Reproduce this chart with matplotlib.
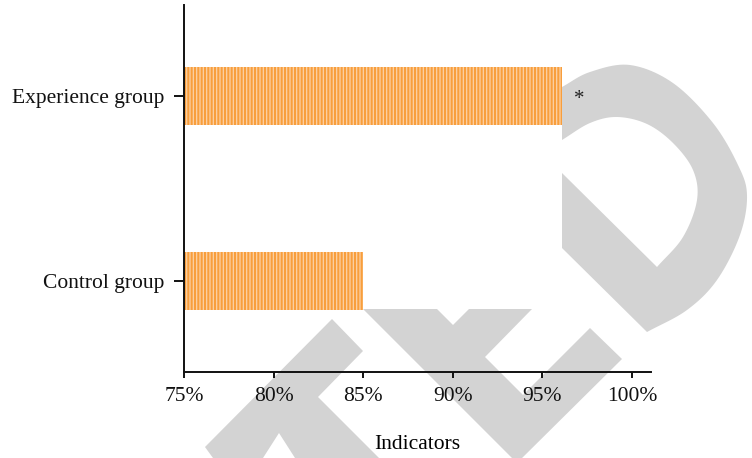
import matplotlib
matplotlib.use("Agg")
import matplotlib.pyplot as plt
from matplotlib.patches import Polygon, Rectangle
import numpy as np

# ---- data ----
categories = ["Control group", "Experience group"]
values = [85.0, 96.1]
significance = ["", "*"]
xticks = [75, 80, 85, 90, 95, 100]
xtick_labels = ["75%", "80%", "85%", "90%", "95%", "100%"]
xlabel = "Indicators"

# ---- decoration: grey retraction watermark (figure pixel coords, y down) ----
WM_COLOR = "#d3d3d3"
wm_shape_a = [(332, 319), (363, 351), (318, 397), (379, 458), (295, 458),
              (279, 433), (263, 458), (213, 458), (205, 447)]
wm_shape_b = [(363, 309), (437, 309), (453, 325), (469, 309), (532, 309),
              (485, 357), (523, 395), (590, 328), (622, 359), (517, 463)]
wm_d_outer = [(562, 87), (590, 72), (630, 65), (673, 83), (713, 123), (738, 165),
              (747, 195), (740, 235), (717, 280), (687, 310), (647, 332)]
wm_d_stem = [(562, 248), (562, 173)]
wm_d_inner = [(657, 267), (683, 237), (697, 200), (693, 170), (673, 143),
              (647, 124), (617, 117), (590, 123), (562, 140)]
wm_mask = (0, 0, 562, 309)


def smooth(pts, n=12):
    p = np.asarray(pts, float)
    p = np.vstack([2 * p[0] - p[1], p, 2 * p[-1] - p[-2]])
    out = []
    for i in range(1, len(p) - 2):
        p0, p1, p2, p3 = p[i - 1], p[i], p[i + 1], p[i + 2]
        for t in np.linspace(0, 1, n, endpoint=False):
            out.append(0.5 * ((2 * p1) + (-p0 + p2) * t
                              + (2 * p0 - 5 * p1 + 4 * p2 - p3) * t ** 2
                              + (-p0 + 3 * p1 - 3 * p2 + p3) * t ** 3))
    out.append(p[-2])
    return np.array(out)


wm_shape_d = np.vstack([smooth(wm_d_outer), np.array(wm_d_stem, float), smooth(wm_d_inner)])

W, H, DPI = 752, 458, 100
plt.rcParams["font.family"] = ["Liberation Serif", "DejaVu Serif"]
plt.rcParams["hatch.linewidth"] = 1.5

fig = plt.figure(figsize=(W / DPI, H / DPI), dpi=DPI)
fig.patch.set_facecolor("white")

bg = fig.add_axes([0, 0, 1, 1], zorder=0)
bg.set_xlim(0, W)
bg.set_ylim(H, 0)
bg.axis("off")
for shp in (wm_shape_a, wm_shape_b, wm_shape_d):
    bg.add_patch(Polygon(shp, closed=True, facecolor=WM_COLOR, edgecolor="none", zorder=1))
mx0, my0, mx1, my1 = wm_mask
bg.add_patch(Rectangle((mx0, my0), mx1 - mx0, my1 - my0, facecolor="white",
                       edgecolor="none", zorder=2))

left_px, right_px, top_px, bottom_px = 184, 651, 5, 372
ax = fig.add_axes([left_px / W, (H - bottom_px) / H,
                   (right_px - left_px) / W, (bottom_px - top_px) / H], zorder=1)
ax.patch.set_alpha(0)

base = 75
ypos = list(range(len(categories)))
ax.barh(ypos, [v - base for v in values], left=base, height=0.31,
        color="#fcd2a6", edgecolor="#f89e3c", linewidth=0, hatch="|||||")
for y, v, s in zip(ypos, values, significance):
    if s:
        ax.text(v + 0.95, y - 0.02, s, ha="center", va="center", fontsize=15, color="#222222")

ax.set_xlim(75, 101.06)
ax.set_ylim(-0.492, 1.492)
ax.set_xticks(xticks)
ax.set_xticklabels(xtick_labels)
ax.set_yticks(ypos)
ax.set_yticklabels(categories)
ax.set_xlabel(xlabel, fontsize=15.5)
ax.xaxis.set_label_coords(0.5, -0.172)

for side in ("top", "right"):
    ax.spines[side].set_visible(False)
for side in ("left", "bottom"):
    ax.spines[side].set_linewidth(1.4)
    ax.spines[side].set_color("#111111")
ax.tick_params(axis="x", length=4.5, width=1.4, pad=6.5, labelsize=15.5, colors="#111111")
ax.tick_params(axis="y", length=7, width=1.4, pad=7, labelsize=15.5, colors="#111111")

fig.savefig("out.png", dpi=DPI, facecolor="white")
